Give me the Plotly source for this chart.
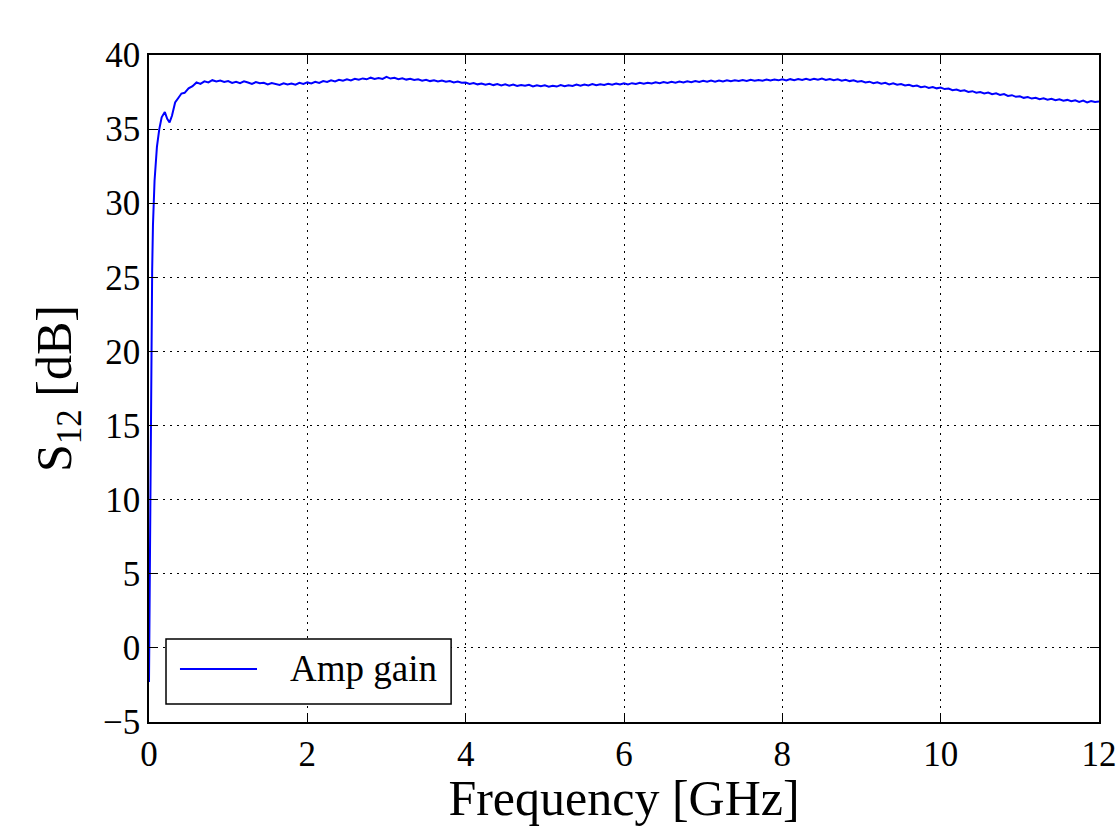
import numpy as np
import plotly.graph_objects as go

# ---- data ----
freq_start = [0.0, 0.01, 0.02, 0.03, 0.04, 0.05, 0.07, 0.10, 0.13, 0.16, 0.20,
              0.23, 0.26, 0.29, 0.33, 0.37, 0.41, 0.45, 0.50, 0.55, 0.60, 0.65]
gain_start = [-2.3, 5.0, 14.0, 21.0, 25.5, 28.5, 31.5, 33.8, 35.0, 35.8, 36.15,
              35.7, 35.45, 35.9, 36.8, 37.1, 37.4, 37.45, 37.75, 37.9, 38.15, 38.05]

# sampled every 0.05 GHz from 0.70 to 12.00 GHz
gain_0 = [38.22, 38.15, 38.30, 38.21, 38.27, 38.18]
gain_1 = [38.24, 38.12, 38.19, 38.10, 38.22, 38.14, 38.05, 38.17, 38.09, 38.13,
          38.02, 38.11, 38.06, 37.98, 38.09, 38.01, 38.07, 38.00, 38.12, 38.05]
gain_2 = [38.15, 38.08, 38.19, 38.12, 38.24, 38.18, 38.29, 38.22, 38.33, 38.27,
          38.36, 38.29, 38.40, 38.33, 38.42, 38.36, 38.47, 38.39, 38.44, 38.38]
gain_3 = [38.52, 38.41, 38.46, 38.37, 38.43, 38.34, 38.40, 38.31, 38.36, 38.27,
          38.33, 38.24, 38.30, 38.21, 38.27, 38.19, 38.24, 38.15, 38.21, 38.13]
gain_4 = [38.14, 38.05, 38.11, 38.02, 38.08, 37.99, 38.06, 37.97, 38.04, 37.95,
          38.02, 37.93, 38.00, 37.91, 37.98, 37.92, 37.99, 37.88, 37.96, 37.90]
gain_5 = [37.95, 37.86, 37.93, 37.87, 37.97, 37.89, 37.96, 37.91, 38.00, 37.93,
          38.01, 37.95, 38.04, 37.96, 38.03, 37.98, 38.06, 38.00, 38.08, 38.01]
gain_6 = [38.09, 38.02, 38.10, 38.04, 38.12, 38.06, 38.13, 38.08, 38.16, 38.10,
          38.18, 38.11, 38.19, 38.13, 38.21, 38.15, 38.23, 38.17, 38.25, 38.18]
gain_7 = [38.26, 38.19, 38.27, 38.20, 38.28, 38.22, 38.30, 38.23, 38.29, 38.24,
          38.31, 38.25, 38.33, 38.26, 38.32, 38.27, 38.35, 38.28, 38.34, 38.29]
gain_8 = [38.36, 38.28, 38.37, 38.30, 38.38, 38.31, 38.40, 38.32, 38.39, 38.33,
          38.41, 38.31, 38.38, 38.30, 38.36, 38.27, 38.33, 38.24, 38.30, 38.20]
gain_9 = [38.24, 38.15, 38.20, 38.10, 38.16, 38.07, 38.13, 38.02, 38.09, 37.99,
          38.04, 37.94, 37.99, 37.89, 37.94, 37.83, 37.88, 37.78, 37.84, 37.75]
gain_10 = [37.80, 37.70, 37.74, 37.63, 37.67, 37.57, 37.62, 37.51, 37.56, 37.46,
           37.50, 37.41, 37.47, 37.36, 37.41, 37.31, 37.36, 37.24, 37.29, 37.18]
gain_11 = [37.22, 37.11, 37.16, 37.06, 37.12, 37.02, 37.08, 36.99, 37.04, 36.95,
           37.01, 36.91, 36.97, 36.88, 36.95, 36.84, 36.92, 36.80, 36.89, 36.83]
gain_12 = [36.86]

x_ticks = [0, 2, 4, 6, 8, 10, 12]
y_ticks = [-5, 0, 5, 10, 15, 20, 25, 30, 35, 40]
series_name = "Amp gain"

gain_rest = (gain_0 + gain_1 + gain_2 + gain_3 + gain_4 + gain_5 + gain_6 +
             gain_7 + gain_8 + gain_9 + gain_10 + gain_11 + gain_12)
freq_rest = list(np.round(np.arange(len(gain_rest)) * 0.05 + 0.70, 2))

freq = freq_start + freq_rest
gain = gain_start + gain_rest

FONT = "Liberation Serif, Times New Roman, serif"
BLUE = "rgb(0,0,255)"

fig = go.Figure()
fig.add_trace(go.Scatter(x=freq, y=gain, mode="lines", name=series_name,
                         line=dict(color=BLUE, width=2), showlegend=False))

axis_common = dict(
    showline=True, linecolor="black", linewidth=1.5, mirror="allticks",
    ticks="inside", ticklen=9, tickwidth=1.2, tickcolor="black",
    showgrid=True, gridcolor="black", gridwidth=1, griddash="2px,5px",
    zeroline=False, automargin=False,
    tickfont=dict(family=FONT, size=35, color="black"),
)

fig.update_xaxes(range=[0, 12], tickvals=x_ticks, ticktext=[str(v) for v in x_ticks],
                 title=dict(text="Frequency [GHz]", font=dict(family=FONT, size=50, color="black"),
                            standoff=6),
                 **axis_common)
fig.update_yaxes(range=[-5, 40], tickvals=y_ticks,
                 ticktext=[("\u2212" + str(-v)) if v < 0 else str(v) for v in y_ticks],
                 title=dict(text="S<sub>12</sub> [dB]", font=dict(family=FONT, size=50, color="black"),
                            standoff=16),
                 **axis_common)

# legend box drawn in the bottom-left corner (paper coordinates)
fig.add_shape(type="rect", xref="paper", yref="paper", x0=0.0179, x1=0.318, y0=0.027, y1=0.1244,
              line=dict(color="black", width=1.5), fillcolor="white", layer="above")
fig.add_shape(type="line", xref="paper", yref="paper", x0=0.0326, x1=0.1137, y0=0.0795, y1=0.0795,
              line=dict(color=BLUE, width=2), layer="above")
fig.add_annotation(xref="paper", yref="paper", x=0.1463, y=0.0795, xanchor="left", yanchor="middle",
                   text=series_name, showarrow=False,
                   font=dict(family=FONT, size=37, color="black"))

fig.update_layout(
    width=1119, height=826,
    margin=dict(l=149, r=20, t=55, b=104),
    paper_bgcolor="white", plot_bgcolor="white",
    font=dict(family=FONT, color="black"),
)

fig.write_html("out.html")
